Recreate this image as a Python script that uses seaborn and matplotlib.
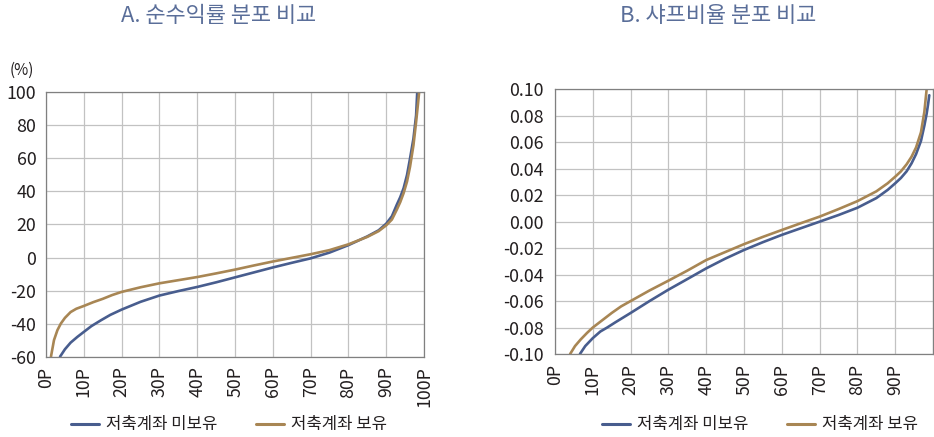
import matplotlib
matplotlib.use("Agg")
import matplotlib.pyplot as plt
import seaborn as sns
import pandas as pd

# Percentile positions and values for each group
ret_no_pct = [3.7, 5, 6.5, 8.3, 10, 12, 14.5, 17, 20, 25, 30, 35, 40, 45, 50, 55, 60, 65, 70,
              75, 80, 85, 88, 90, 91.5, 92.8, 93.7, 94.6, 95.5, 96.3, 97.2, 97.9, 98.2]
ret_no_val = [-60, -55.5, -51.5, -48, -45, -41.5, -38, -34.7, -31.5, -26.8, -23, -20.3, -17.8,
              -15, -12, -9, -6, -3.2, -0.5, 3, 7.5, 12.8, 16.5, 20.5, 25, 32, 36.5, 42, 50, 60,
              72, 86, 100]
ret_yes_pct = [1.3, 2.1, 3, 3.9, 5, 6.5, 8, 10, 12.5, 15, 17.5, 20, 25, 30, 35, 40, 45, 50, 55,
               60, 65, 70, 75, 80, 85, 88, 90, 91.5, 92.8, 93.7, 94.6, 95.5, 96.3, 97.2, 97.9,
               98.4, 98.7]
ret_yes_val = [-60, -50, -44, -40, -36.5, -33, -31, -29.3, -27, -25, -22.7, -20.8, -18, -15.6,
               -13.7, -11.8, -9.6, -7.3, -4.8, -2.4, -0.2, 2, 4.5, 8, 12.5, 16, 19.5, 23, 29,
               33.5, 39, 46, 55, 68, 82, 93, 100]

sharpe_no_pct = [6.6, 8, 10, 12, 13.8, 16, 20, 25, 30, 34, 40, 45, 50, 55, 60, 65, 70, 75, 80,
                 85, 88, 90, 91.5, 93, 94.3, 95.5, 96.8, 97.7, 98.3, 98.7, 99.0]
sharpe_no_val = [-0.100, -0.094, -0.088, -0.083, -0.080, -0.076, -0.069, -0.060, -0.0514,
                 -0.045, -0.0353, -0.028, -0.0214, -0.0155, -0.010, -0.005, 0.0, 0.005, 0.0105,
                 0.0178, 0.024, 0.029, 0.033, 0.038, 0.044, 0.051, 0.061, 0.0726, 0.0815,
                 0.089, 0.0955]
sharpe_yes_pct = [4.0, 5.3, 6.8, 8.5, 10, 12.5, 15, 17.5, 20, 25, 30, 35, 40, 45, 50, 55, 60,
                  65, 70, 75, 80, 85, 88, 90, 91.5, 93, 94.3, 95.5, 96.8, 97.7, 98.3]
sharpe_yes_val = [-0.100, -0.094, -0.089, -0.084, -0.080, -0.0745, -0.069, -0.064, -0.060,
                  -0.052, -0.0446, -0.037, -0.029, -0.023, -0.017, -0.0115, -0.0063, -0.0012,
                  0.0038, 0.0095, 0.0155, 0.0229, 0.029, 0.034, 0.038, 0.0433, 0.049, 0.056,
                  0.0675, 0.083, 0.100]

group_no = "저축계좌 미보유"
group_yes = "저축계좌 보유"
titles = ["A. 순수익률 분포 비교", "B. 샤프비율 분포 비교"]
ret_yticks = [-60, -40, -20, 0, 20, 40, 60, 80, 100]
sharpe_yticks = [-0.10, -0.08, -0.06, -0.04, -0.02, 0.00, 0.02, 0.04, 0.06, 0.08, 0.10]
ret_xticks = [0, 10, 20, 30, 40, 50, 60, 70, 80, 90, 100]
sharpe_xticks = [0, 10, 20, 30, 40, 50, 60, 70, 80, 90]

COL_NO = "#485d8e"
COL_YES = "#a88654"
TITLE_COL = "#5a6e99"
TEXT_COL = "#231f20"

sns.set_theme(style="whitegrid")
plt.rcParams["font.family"] = ["Noto Sans CJK KR", "DejaVu Sans"]
plt.rcParams["axes.unicode_minus"] = False


def frame(pct_a, val_a, pct_b, val_b):
    return pd.concat([
        pd.DataFrame({"pct": pct_a, "val": val_a, "group": group_no}),
        pd.DataFrame({"pct": pct_b, "val": val_b, "group": group_yes}),
    ], ignore_index=True)


df_ret = frame(ret_no_pct, ret_no_val, ret_yes_pct, ret_yes_val)
df_sharpe = frame(sharpe_no_pct, sharpe_no_val, sharpe_yes_pct, sharpe_yes_val)

fig = plt.figure(figsize=(9.34, 4.37), dpi=100)
ax1 = fig.add_axes([0.0493, 0.1838, 0.4047, 0.605])
ax2 = fig.add_axes([0.5942, 0.1899, 0.4048, 0.6058])

palette = {group_no: COL_NO, group_yes: COL_YES}

for ax, df in ((ax1, df_ret), (ax2, df_sharpe)):
    sns.lineplot(data=df, x="pct", y="val", hue="group", palette=palette, ax=ax,
                 linewidth=1.9, sort=False, estimator=None)
    ax.set_xlabel("")
    ax.set_ylabel("")
    ax.set_facecolor("white")
    ax.grid(True, color="#c2c2c2", linewidth=0.9)
    for s in ax.spines.values():
        s.set_color("#808080")
        s.set_linewidth(0.9)
    ax.set_xlim(0, 100)

ax1.set_ylim(-60, 100)
ax1.set_yticks(ret_yticks)
ax1.set_yticklabels([str(v) for v in ret_yticks])
ax1.set_xticks(ret_xticks)
ax1.set_xticklabels([f"{v}P" for v in ret_xticks], rotation=90)

ax2.set_ylim(-0.10, 0.10)
ax2.set_yticks(sharpe_yticks)
ax2.set_yticklabels([f"{v:.2f}" for v in sharpe_yticks])
ax2.set_xticks(sharpe_xticks + [100])
ax2.set_xticklabels([f"{v}P" for v in sharpe_xticks] + [""], rotation=90)

for ax, ypad in ((ax1, 7), (ax2, 8)):
    ax.tick_params(axis="y", length=0, pad=ypad, labelsize=12.8, labelcolor=TEXT_COL)
    ax.tick_params(axis="x", length=0, pad=7, labelsize=12.8, labelcolor=TEXT_COL)

fig.text(22 / 934, 1 - 70 / 437, "(%)", fontsize=11, color=TEXT_COL, ha="center", va="center")

fig.text(219 / 934, 1 - 16 / 437, titles[0], fontsize=15.8, color=TITLE_COL,
         ha="center", va="center")
fig.text(718 / 934, 1 - 16 / 437, titles[1], fontsize=15.8, color=TITLE_COL,
         ha="center", va="center")

for ax, cx in ((ax1, 229 / 934), (ax2, 760 / 934)):
    ax.get_legend().remove()
    handles, labels = ax.get_legend_handles_labels()
    leg = ax.legend(handles, labels, loc="center", bbox_to_anchor=(cx, 1 - 425 / 437),
                    bbox_transform=fig.transFigure, ncol=2, frameon=False, fontsize=12,
                    handlelength=1.7, handletextpad=0.4, columnspacing=2.3)
    for t in leg.get_texts():
        t.set_color(TEXT_COL)
    for h in leg.get_lines():
        h.set_linewidth(2.2)

fig.savefig("out.png", dpi=100)
